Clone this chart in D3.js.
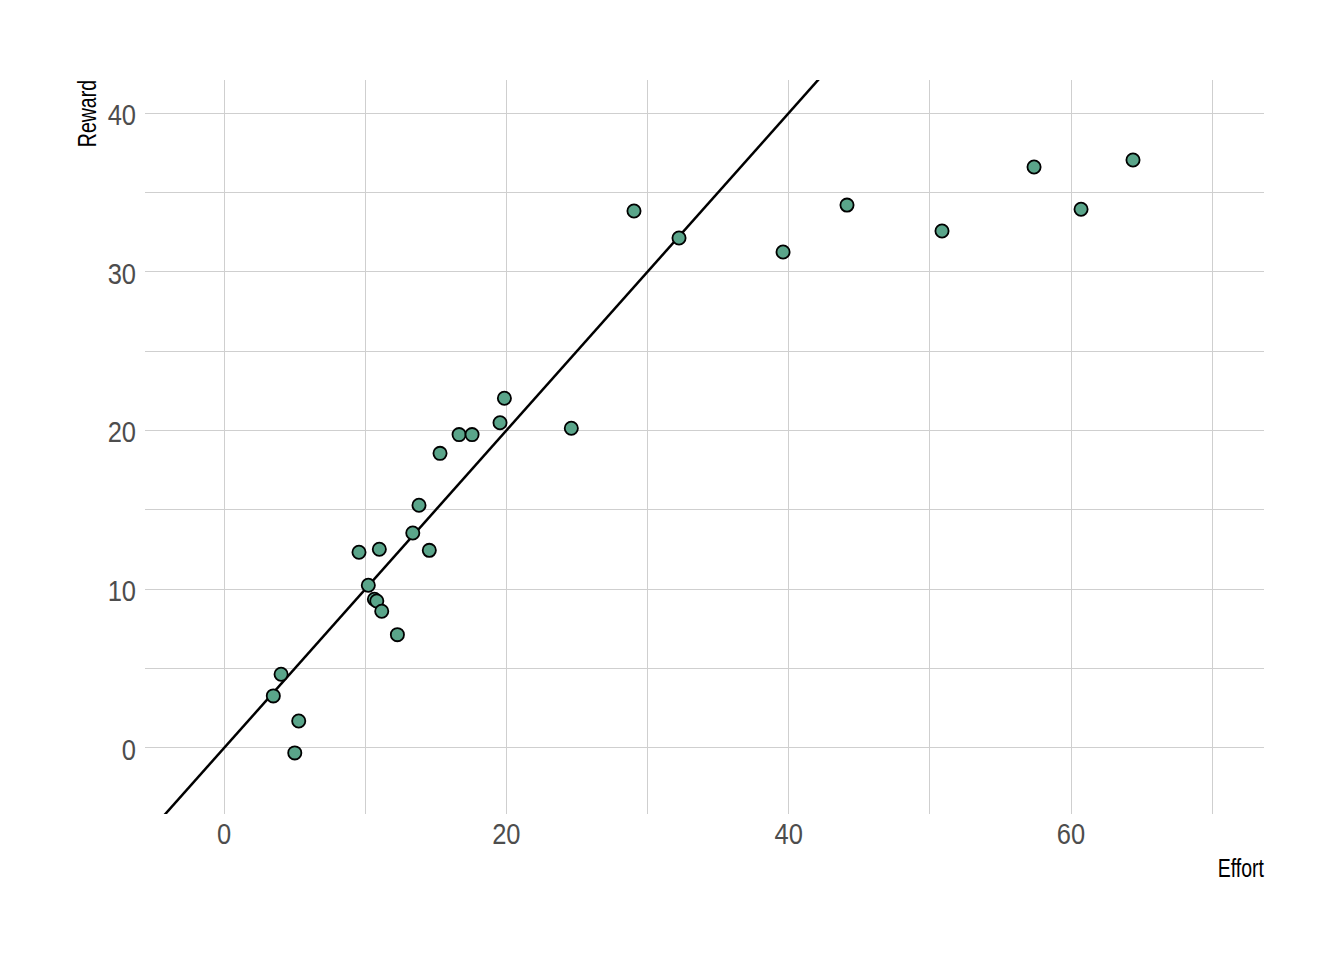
<!DOCTYPE html>
<html>
<head>
<meta charset="utf-8">
<script src="https://cdn.jsdelivr.net/npm/d3@7"></script>
<style>
    body { margin: 0; background: #fff; }
    svg { display: block; }
</style>
</head>
<body>
<div id="chart"></div>
<script>
// Effort / reward values
var effort = [3.49, 4.04, 5.29, 5.01, 9.56, 10.22, 10.65, 10.82, 11.0, 11.17,
    12.28, 13.37, 13.81, 14.54, 15.30, 16.65, 17.57, 19.55, 19.86, 24.60,
    29.04, 32.23, 39.60, 44.13, 50.86, 57.38, 60.71, 64.39];
var reward = [3.28, 4.64, 1.70, -0.31, 12.33, 10.25, 9.37, 9.26, 12.52, 8.61,
    7.14, 13.54, 15.29, 12.45, 18.56, 19.74, 19.74, 20.49, 22.03, 20.14,
    33.83, 32.13, 31.24, 34.20, 32.57, 36.60, 33.94, 37.04];

var xTicks = [0, 20, 40, 60];
var xMinor = [10, 30, 50, 70];
var yTicks = [0, 10, 20, 30, 40];
var yMinor = [5, 15, 25, 35];

var width = 1344, height = 960;
var panel = { left: 145, right: 1264, top: 80, bottom: 814 };
var FONT = "'Liberation Sans', Arial, sans-serif";
// no narrow font installed, so squeeze the text horizontally
var TICK_SQUEEZE = 0.85, TITLE_SQUEEZE = 0.78;

var svg = d3.select("#chart").append("svg")
    .attr("width", width)
    .attr("height", height);

var x = d3.scaleLinear().domain([-5.6, 73.67]).range([panel.left, panel.right]);
var y = d3.scaleLinear().domain([-4.16, 42.08]).range([panel.bottom, panel.top]);

// grid (major and minor look the same here)
var grid = svg.append("g")
    .attr("stroke", "#cfcfcf")
    .attr("stroke-width", 1)
    .attr("shape-rendering", "crispEdges");

grid.selectAll("line.v")
    .data(xTicks.concat(xMinor))
    .enter().append("line")
    .attr("x1", d => x(d)).attr("x2", d => x(d))
    .attr("y1", panel.top).attr("y2", panel.bottom);

grid.selectAll("line.h")
    .data(yTicks.concat(yMinor))
    .enter().append("line")
    .attr("x1", panel.left).attr("x2", panel.right)
    .attr("y1", d => y(d)).attr("y2", d => y(d));

// tick labels
svg.append("g").selectAll("text")
    .data(xTicks)
    .enter().append("text")
    .attr("transform", d => "translate(" + x(d) + ",844) scale(" + TICK_SQUEEZE + ",1)")
    .attr("text-anchor", "middle")
    .attr("font-family", FONT)
    .attr("font-size", 30)
    .attr("fill", "#4d4d4d")
    .text(d => d);

svg.append("g").selectAll("text")
    .data(yTicks)
    .enter().append("text")
    .attr("transform", d => "translate(136," + (y(d) + 12) + ") scale(" + TICK_SQUEEZE + ",1)")
    .attr("text-anchor", "end")
    .attr("font-family", FONT)
    .attr("font-size", 30)
    .attr("fill", "#4d4d4d")
    .text(d => d);

// axis titles
svg.append("text")
    .attr("transform", "translate(" + panel.right + ",877) scale(" + TITLE_SQUEEZE + ",1)")
    .attr("text-anchor", "end")
    .attr("font-family", FONT)
    .attr("font-size", 25)
    .attr("fill", "#000")
    .text("Effort");

svg.append("text")
    .attr("transform", "translate(96," + panel.top + ") rotate(-90) scale(" + TITLE_SQUEEZE + ",1)")
    .attr("text-anchor", "end")
    .attr("font-family", FONT)
    .attr("font-size", 25)
    .attr("fill", "#000")
    .text("Reward");

// identity line y = x, clipped to the panel
svg.append("clipPath").attr("id", "panel-clip")
    .append("rect")
    .attr("x", panel.left).attr("y", panel.top)
    .attr("width", panel.right - panel.left)
    .attr("height", panel.bottom - panel.top);

var lo = Math.min(x.domain()[0], y.domain()[0]);
var hi = Math.max(x.domain()[1], y.domain()[1]);
svg.append("line")
    .attr("clip-path", "url(#panel-clip)")
    .attr("x1", x(lo)).attr("y1", y(lo))
    .attr("x2", x(hi)).attr("y2", y(hi))
    .attr("stroke", "#000")
    .attr("stroke-width", 2.5);

// points
svg.append("g")
    .attr("stroke", "#000")
    .attr("stroke-width", 1.8)
    .attr("fill", "#5aa58a")
    .selectAll("circle")
    .data(d3.range(effort.length))
    .enter().append("circle")
    .attr("cx", i => x(effort[i]))
    .attr("cy", i => y(reward[i]))
    .attr("r", 6.6);
</script>
</body>
</html>
